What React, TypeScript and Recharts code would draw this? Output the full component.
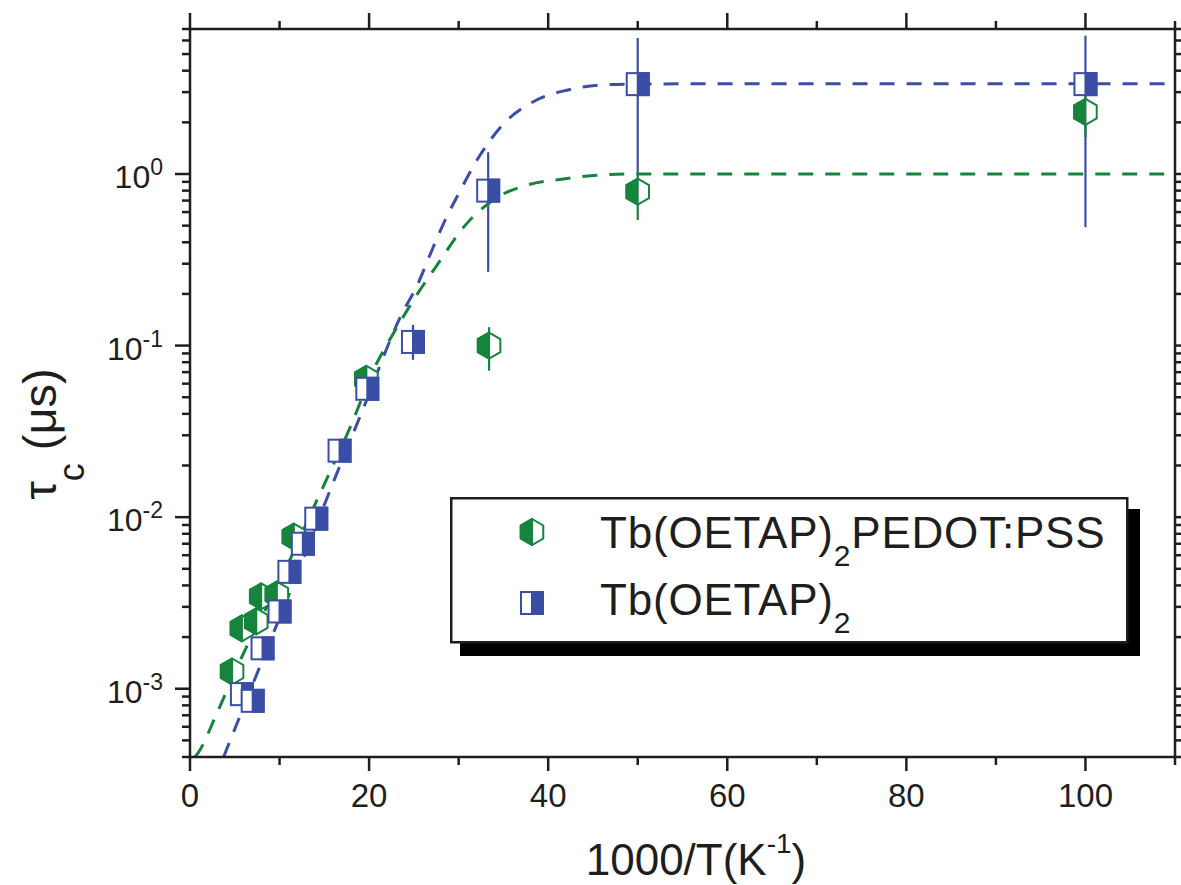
import React from "react";
import { ComposedChart, Scatter, Line, XAxis, YAxis, ErrorBar, Legend, Label } from "recharts";

const FONT = '"Liberation Sans", Arial, Helvetica, sans-serif';
const GREEN = "#17843d";
const BLUE = "#3a4ea6";
const INK = "#1e1e1e";

// Tb(OETAP)2PEDOT:PSS points
const greenX = [4.7, 5.8, 7.4, 7.95, 9.7, 11.6, 19.7, 33.4, 50.0, 100.0];
const greenTau = [1.26e-3, 2.25e-3, 2.47e-3, 3.45e-3, 3.54e-3, 7.7e-3, 0.064, 0.1, 0.79, 2.3];

// Tb(OETAP)2 points
const blueX = [5.8, 7.0, 8.1, 10.0, 11.1, 12.6, 14.1, 16.7, 19.8, 24.9, 33.3, 50.0, 100.0];
const blueTau = [9.3e-4, 8.5e-4, 1.72e-3, 2.82e-3, 4.8e-3, 7.0e-3, 9.8e-3, 0.0244, 0.056, 0.105, 0.8, 3.34, 3.34];

// error bars (lower / upper ends)
const greenErrX = [33.4, 50.0, 100.0];
const greenErrTau = [0.1, 0.79, 2.3];
const greenErrLo = [0.0714, 0.54, 1.64];
const greenErrHi = [0.128, 1.0, 2.88];

const blueErrX = [24.9, 33.3, 50.0, 100.0];
const blueErrTau = [0.105, 0.8, 3.34, 3.34];
const blueErrLo = [0.0826, 0.269, 1.0, 0.49];
const blueErrHi = [0.132, 1.34, 6.2, 6.4];

// dashed fit curves
const greenFitX = [0.56, 1.0, 3.0, 6.0, 10.0, 14.0, 18.0, 20.8, 22.3, 25.4, 27.7, 30.7, 34.3, 37.6, 41.7, 45.5, 49.2, 60, 80, 110];
const greenFitTau = [4.0e-4, 4.3e-4, 7.2e-4, 1.62e-3, 4.2e-3, 0.012, 0.0345, 0.078, 0.108, 0.2, 0.3, 0.5, 0.73, 0.86, 0.935, 0.985, 1.0, 1.0, 1.0, 1.0];

const blueFitX = [3.75, 7.5, 12.0, 15.9, 19.3, 23.6, 25.4, 26.8, 28.4, 30.1, 32.4, 34.9, 38.7, 42.1, 45.8, 49.2, 60, 80, 110];
const blueFitTau = [4.0e-4, 1.23e-3, 4.7e-3, 0.0155, 0.0423, 0.151, 0.226, 0.338, 0.526, 0.786, 1.29, 1.93, 2.7, 3.08, 3.3, 3.34, 3.36, 3.36, 3.36];

// axis ticks
const xMajorTicks = [0, 20, 40, 60, 80, 100];
const xMinorTicks = [10, 30, 50, 70, 90, 110];
const yMajorTicks = [1e-3, 1e-2, 1e-1, 1];
const yMinorTicks = [
  4e-4, 5e-4, 6e-4, 7e-4, 8e-4, 9e-4,
  2e-3, 3e-3, 4e-3, 5e-3, 6e-3, 7e-3, 8e-3, 9e-3,
  2e-2, 3e-2, 4e-2, 5e-2, 6e-2, 7e-2, 8e-2, 9e-2,
  0.2, 0.3, 0.4, 0.5, 0.6, 0.7, 0.8, 0.9,
  2, 3, 4, 5, 6, 7,
];

const zip = (xs: number[], ys: number[]) => xs.map((x, i) => ({ x, tau: ys[i] }));
const errRows = (xs: number[], ys: number[], lo: number[], hi: number[]) =>
  xs.map((x, i) => ({ x, tau: ys[i], lo: lo[i], hi: hi[i] }));

const greenPts = zip(greenX, greenTau);
const bluePts = zip(blueX, blueTau);
const greenErr = errRows(greenErrX, greenErrTau, greenErrLo, greenErrHi);
const blueErr = errRows(blueErrX, blueErrTau, blueErrLo, blueErrHi);
const greenFit = zip(greenFitX, greenFitTau);
const blueFit = zip(blueFitX, blueFitTau);

const xTicks = [...xMajorTicks, ...xMinorTicks].sort((a, b) => a - b);
const yTicks = [...yMajorTicks, ...yMinorTicks].sort((a, b) => a - b);

const MAJOR = 14;
const MINOR = 8;
const AXIS_W = 2.5;

function Hex({ cx, cy, color }: { cx: number; cy: number; color: string }) {
  const r = 13;
  const w = r * 0.866;
  const all = [
    [cx, cy - r], [cx + w, cy - r / 2], [cx + w, cy + r / 2],
    [cx, cy + r], [cx - w, cy + r / 2], [cx - w, cy - r / 2],
  ];
  const left = [[cx, cy - r], [cx, cy + r], [cx - w, cy + r / 2], [cx - w, cy - r / 2]];
  const p = (a: number[][]) => a.map((q) => q.join(",")).join(" ");
  return (
    <g>
      <polygon points={p(all)} fill="#fff" stroke={color} strokeWidth={2} />
      <polygon points={p(left)} fill={color} stroke={color} strokeWidth={2} strokeLinejoin="round" />
    </g>
  );
}

function Sq({ cx, cy, color }: { cx: number; cy: number; color: string }) {
  const h = 11;
  return (
    <g>
      <rect x={cx - h} y={cy - h} width={2 * h} height={2 * h} fill="#fff" stroke={color} strokeWidth={2} />
      <rect x={cx} y={cy - h} width={h} height={2 * h} fill={color} stroke={color} strokeWidth={2} />
    </g>
  );
}

const greenShape = (props: any) => <Hex cx={props.cx} cy={props.cy} color={GREEN} />;
const blueShape = (props: any) => <Sq cx={props.cx} cy={props.cy} color={BLUE} />;
const noShape = () => <g />;

const BottomTick = (props: any) => {
  const { x, y, payload } = props;
  const major = xMajorTicks.includes(payload.value);
  return (
    <g>
      <line x1={x} x2={x} y1={y} y2={y + (major ? MAJOR : MINOR)} stroke={INK} strokeWidth={AXIS_W} />
      {major && (
        <text x={x} y={y + 50} textAnchor="middle" fontFamily={FONT} fontSize={33} fill={INK}>
          {payload.value}
        </text>
      )}
    </g>
  );
};

const TopTick = (props: any) => {
  const { x, y, payload } = props;
  const major = xMajorTicks.includes(payload.value);
  return <line x1={x} x2={x} y1={y} y2={y - (major ? MAJOR + 2 : MINOR)} stroke={INK} strokeWidth={AXIS_W} />;
};

const LeftTick = (props: any) => {
  const { x, y, payload } = props;
  const major = yMajorTicks.includes(payload.value);
  const exp = Math.round(Math.log10(payload.value));
  return (
    <g>
      <line x1={x - (major ? MAJOR + 1 : MINOR)} x2={x} y1={y} y2={y} stroke={INK} strokeWidth={AXIS_W} />
      {major && (
        <text x={x - 27} y={y + 14} textAnchor="end" fontFamily={FONT} fontSize={32} fill={INK}>
          10
          <tspan fontSize={23} dy={-13}>{exp === 0 ? "0" : `-${-exp}`}</tspan>
        </text>
      )}
    </g>
  );
};

const RightTick = (props: any) => {
  const { x, y, payload } = props;
  const major = yMajorTicks.includes(payload.value);
  return <line x1={x} x2={x + (major ? MAJOR : MINOR)} y1={y} y2={y} stroke={INK} strokeWidth={AXIS_W} />;
};

const XTitle = () => (
  <text x={696} y={875} textAnchor="middle" fontFamily={FONT} fontSize={44} fill={INK}>
    1000/T(K
    <tspan fontSize={28} dy={-22}>-1</tspan>
    <tspan dy={22}>)</tspan>
  </text>
);

const YTitle = () => (
  <text x={56} y={434} transform="rotate(-90 56 434)" textAnchor="middle" fontFamily={FONT} fontSize={47} fill={INK}>
    τ
    <tspan fontSize={36} dy={28}>c</tspan>
    <tspan dy={-28}>{" (μs)"}</tspan>
  </text>
);

const LegendBox = () => (
  <svg width={700} height={170} style={{ display: "block", overflow: "visible" }}>
    <rect x={10} y={12} width={680} height={147} fill="#000" />
    <rect x={1.25} y={1.25} width={676} height={144} fill="#fff" stroke={INK} strokeWidth={2.5} />
    <Hex cx={82} cy={35} color={GREEN} />
    <text x={150} y={51} fontFamily={FONT} fontSize={44} fill={INK} letterSpacing={0.8}>
      Tb(OETAP)
      <tspan fontSize={30} dy={18}>2</tspan>
      <tspan dy={-18}>PEDOT:PSS</tspan>
    </text>
    <Sq cx={82} cy={106} color={BLUE} />
    <text x={150} y={118} fontFamily={FONT} fontSize={44} fill={INK} letterSpacing={0.8}>
      Tb(OETAP)
      <tspan fontSize={30} dy={18}>2</tspan>
    </text>
  </svg>
);

const axisLine = { stroke: INK, strokeWidth: AXIS_W };

export default function App() {
  return (
    <div style={{ position: "absolute", left: 0, top: 0, width: 1181, height: 885, background: "#fff" }}>
      <ComposedChart width={1181} height={885} margin={{ top: 9, right: 0, bottom: 28, left: 90 }}>
        <XAxis
          xAxisId="bottom"
          dataKey="x"
          type="number"
          domain={[0, 110]}
          ticks={xTicks}
          interval={0}
          allowDataOverflow
          height={100}
          tickSize={0}
          tickMargin={0}
          tickLine={false}
          tick={BottomTick}
          axisLine={axisLine}
        >
          <Label content={XTitle} />
        </XAxis>
        <XAxis
          xAxisId="top"
          orientation="top"
          dataKey="x"
          type="number"
          domain={[0, 110]}
          ticks={xTicks}
          interval={0}
          allowDataOverflow
          height={20}
          tickSize={0}
          tickMargin={0}
          tickLine={false}
          tick={TopTick}
          axisLine={axisLine}
        />
        <YAxis
          yAxisId="left"
          dataKey="tau"
          type="number"
          scale="log"
          domain={[4e-4, 7]}
          ticks={yTicks}
          interval={0}
          allowDataOverflow
          width={100}
          tickSize={0}
          tickMargin={0}
          tickLine={false}
          tick={LeftTick}
          axisLine={axisLine}
        >
          <Label content={YTitle} />
        </YAxis>
        <YAxis
          yAxisId="right"
          orientation="right"
          dataKey="tau"
          type="number"
          scale="log"
          domain={[4e-4, 7]}
          ticks={yTicks}
          interval={0}
          allowDataOverflow
          width={6}
          tickSize={0}
          tickMargin={0}
          tickLine={false}
          tick={RightTick}
          axisLine={axisLine}
        />

        <Scatter xAxisId="bottom" yAxisId="left" data={blueErr} shape={noShape} isAnimationActive={false}>
          <ErrorBar
            dataKey={(d: any) => [d.tau - d.lo, d.hi - d.tau]}
            direction="y"
            width={0}
            stroke={BLUE}
            strokeWidth={2.2}
          />
        </Scatter>
        <Scatter xAxisId="bottom" yAxisId="left" data={greenErr} shape={noShape} isAnimationActive={false}>
          <ErrorBar
            dataKey={(d: any) => [d.tau - d.lo, d.hi - d.tau]}
            direction="y"
            width={0}
            stroke={GREEN}
            strokeWidth={2.2}
          />
        </Scatter>
        <Scatter
          name="Tb(OETAP)2PEDOT:PSS"
          xAxisId="bottom"
          yAxisId="left"
          data={greenPts}
          shape={greenShape}
          isAnimationActive={false}
        />
        <Scatter
          name="Tb(OETAP)2"
          xAxisId="bottom"
          yAxisId="left"
          data={bluePts}
          shape={blueShape}
          isAnimationActive={false}
        />
        <Line
          xAxisId="bottom"
          yAxisId="left"
          data={blueFit}
          dataKey="tau"
          type="monotone"
          dot={false}
          activeDot={false}
          stroke={BLUE}
          strokeWidth={3}
          strokeDasharray="15 12"
          isAnimationActive={false}
        />
        <Line
          xAxisId="top"
          yAxisId="right"
          data={greenFit}
          dataKey="tau"
          type="monotone"
          dot={false}
          activeDot={false}
          stroke={GREEN}
          strokeWidth={3}
          strokeDasharray="15 12"
          isAnimationActive={false}
        />
        <Legend
          layout="vertical"
          align="center"
          verticalAlign="middle"
          content={LegendBox}
          wrapperStyle={{ position: "absolute", left: 450, top: 497, width: 700, height: 170 }}
        />
      </ComposedChart>
    </div>
  );
}
